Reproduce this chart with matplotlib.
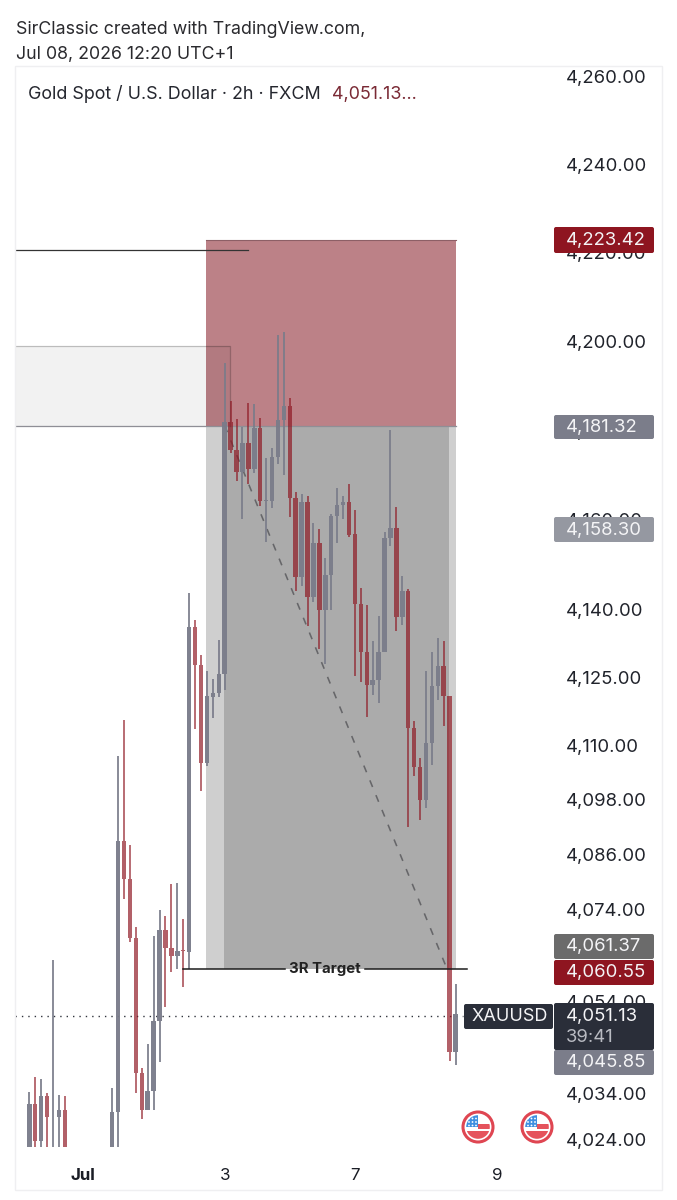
import matplotlib
matplotlib.use("Agg")
import matplotlib.pyplot as plt
from matplotlib.patches import Rectangle, Circle, FancyBboxPatch
from matplotlib.ticker import FixedLocator, FuncFormatter, NullLocator

plt.rcParams['font.family'] = ['Inter', 'DejaVu Sans']

bar_index = [0, 1, 2, 3, 4, 5, 6] + list(range(14, 73))
opens = [4020.70, 4031.63, 4023.72, 4033.42, 4028.89, 4028.96, 4030.34,
         4020.70, 4030.04, 4088.93, 4080.60, 4067.73, 4038.46, 4030.40, 4034.50, 4049.67, 4069.48,
         4065.61, 4063.80, 4065.11, 4064.74, 4136.14, 4127.86, 4106.21, 4120.69, 4121.51, 4125.71,
         4181.81, 4175.60, 4170.73, 4177.10, 4171.40, 4180.60, 4164.19, 4164.19, 4173.96, 4182.33,
         4185.53, 4164.79, 4147.30, 4163.90, 4142.73, 4154.88, 4139.91, 4147.68, 4160.84, 4163.29,
         4163.90, 4156.76, 4141.39, 4130.59, 4123.27, 4124.38, 4130.59, 4155.86, 4158.23, 4138.42,
         4144.12, 4113.94, 4105.24, 4097.93, 4110.63, 4123.05, 4127.52, 4120.91, 4043.00]
highs = [4034.35, 4037.46, 4037.02, 4034.13, 4062.93, 4033.64, 4033.42,
         4035.21, 4107.68, 4115.55, 4088.06, 4070.20, 4039.41, 4044.68, 4068.17, 4073.84, 4072.60,
         4079.45, 4079.67, 4071.81, 4143.68, 4137.69, 4129.92, 4126.43, 4124.75, 4133.25, 4195.06,
         4186.59, 4182.55, 4180.82, 4186.07, 4185.85, 4182.84, 4173.87, 4175.98, 4201.44, 4202.19,
         4187.33, 4166.13, 4165.68, 4165.37, 4159.21, 4157.87, 4151.53, 4161.22, 4167.02, 4165.30,
         4167.98, 4162.18, 4144.86, 4141.02, 4133.13, 4138.58, 4157.20, 4180.08, 4162.78, 4147.52,
         4144.72, 4115.33, 4107.32, 4126.44, 4130.71, 4133.81, 4133.13, 4120.91, 4057.70]
lows = [4019.60, 4021.78, 4021.78, 4021.78, 4021.78, 4021.78, 4021.78,
        4019.62, 4021.78, 4076.24, 4066.86, 4034.00, 4028.40, 4030.40, 4030.40, 4040.84, 4052.78,
        4060.38, 4060.90, 4056.98, 4060.90, 4113.56, 4099.97, 4105.47, 4115.99, 4120.69, 4122.33,
        4174.86, 4168.65, 4160.10, 4167.98, 4170.37, 4163.07, 4154.97, 4162.56, 4172.39, 4170.00,
        4160.68, 4144.19, 4145.30, 4136.36, 4141.75, 4131.19, 4128.08, 4139.91, 4154.88, 4160.24,
        4156.22, 4125.33, 4124.00, 4116.15, 4121.22, 4119.46, 4130.59, 4154.15, 4135.31, 4136.58,
        4091.94, 4103.19, 4093.69, 4096.24, 4105.62, 4119.96, 4114.29, 4041.06, 4040.05]
closes = [4031.63, 4023.72, 4033.42, 4028.96, 4028.96, 4030.34, 4021.78,
          4030.04, 4088.93, 4080.60, 4067.73, 4038.46, 4030.40, 4034.50, 4049.67, 4069.48, 4065.61,
          4063.80, 4064.89, 4064.89, 4136.14, 4127.86, 4106.21, 4120.85, 4121.51, 4125.71, 4181.81,
          4175.60, 4170.73, 4177.10, 4171.40, 4180.60, 4164.19, 4164.41, 4173.96, 4182.33, 4185.53,
          4164.79, 4147.30, 4163.90, 4142.73, 4154.88, 4139.91, 4147.68, 4160.91, 4163.29, 4164.03,
          4156.60, 4141.39, 4130.59, 4123.27, 4124.38, 4130.59, 4155.86, 4158.23, 4138.42, 4144.12,
          4113.94, 4105.24, 4097.93, 4110.63, 4123.05, 4127.52, 4120.91, 4043.00, 4051.13]

price_ticks = [4260, 4240, 4220, 4200, 4180, 4160, 4140, 4125, 4110, 4098, 4086, 4074, 4054, 4034, 4024]
time_ticks = [9, 33, 55, 79]
time_labels = ['Jul', '3', '7', '9']

zone_left, zone_inner_left, zone_inner_right, zone_right = 29.8, 32.9, 70.9, 72.06
stop_price, entry_price, target_price = 4223.0, 4181.1, 4060.9
last_price = 4050.8
supply_top = 4198.96
resistance_price = 4220.64

W, H = 677, 1200
fig = plt.figure(figsize=(W / 100, H / 100), dpi=100, facecolor='white')
L, R, T, B = 15, 555, 71, 1147
ax = fig.add_axes([L / W, 1 - B / H, (R - L) / W, (B - T) / H])
ax.patch.set_alpha(0)
ax.set_yscale('log')
ax.set_xlim(-2.42, 88.8)
ax.set_ylim(4022.42, 4261.37)
for s in ax.spines.values():
    s.set_visible(False)
ax.yaxis.tick_right()
ax.yaxis.set_major_locator(FixedLocator(price_ticks))
ax.yaxis.set_minor_locator(NullLocator())
ax.yaxis.set_major_formatter(FuncFormatter(lambda v, p: f'{v:,.2f}'))
ax.set_xticks(time_ticks)
ax.set_xticklabels(time_labels)
ax.tick_params(axis='y', length=0, pad=8, labelsize=13.3, labelcolor='#20232b')
for t in ax.get_yticklabels():
    t.set_ha('left')
ax.tick_params(axis='x', length=0, pad=15, labelsize=12.2, labelcolor='#1a1d25')
ax.get_xticklabels()[0].set_fontweight('bold')

# position tools
ax.fill_between([zone_left, zone_right], entry_price, stop_price, color='#bc8187', lw=0, zorder=1)
ax.fill_between([zone_left, zone_right], target_price, entry_price, color='#cfcfcf', lw=0, zorder=1)
ax.fill_between([zone_inner_left, zone_inner_right], target_price, entry_price, color='#ababab', lw=0, zorder=1.1)
ax.plot([zone_left, zone_right], [stop_price] * 2, color='#8d5f66', lw=0.8, zorder=1.2)
ax.plot([-2.42, zone_right], [entry_price] * 2, color='#8f8f96', lw=0.9, zorder=1.2)
ax.fill_between([-2.42, 33.9], entry_price, supply_top, facecolor=(0, 0, 0, 0.05), lw=0, zorder=1.3)
ax.plot([-2.42, 33.9, 33.9], [supply_top, supply_top, entry_price], color=(0, 0, 0, 0.22), lw=0.9, zorder=1.3)
ax.plot([-2.42, 36.9], [resistance_price] * 2, color='#333333', lw=0.9, zorder=2)
ax.plot([33, 70.6], [entry_price, target_price], color='#666669', lw=1.15, ls=(0, (4.5, 5.5)), zorder=1.5)
ax.plot([-2.42, 73.2], [last_price] * 2, color='#30333c', lw=1.0, ls=(0, (1, 3.6)), zorder=2)

# candles
for i, o, h, l, c in zip(bar_index, opens, highs, lows, closes):
    up = c >= o
    col = '#7a7c8a' if up else '#8e1520'
    alpha = 0.96 if up else 0.68
    lo, hi = min(o, c), max(o, c)
    if l < lo:
        ax.vlines(i, l, lo, color=col, alpha=alpha, lw=1.3, zorder=3)
    if h > hi:
        ax.vlines(i, hi, h, color=col, alpha=alpha, lw=1.3, zorder=3)
    ax.bar(i, hi - lo, bottom=lo, width=0.76, color=col, alpha=alpha, lw=0, zorder=3.1)

ax.plot([26, 43.2], [target_price] * 2, color='#1c1c1c', lw=1.1, zorder=4)
ax.plot([56.7, 73.9], [target_price] * 2, color='#1c1c1c', lw=1.1, zorder=4)
ax.text(50.0, target_price, '3R Target', ha='center', va='center', fontsize=10.8, fontweight='bold',
        color='#222222', zorder=5)

# overlay for header, price labels and event flags
ov = fig.add_axes([0, 0, 1, 1], zorder=10)
ov.set_xlim(0, W)
ov.set_ylim(H, 0)
ov.axis('off')
ov.patch.set_alpha(0)
ov.add_patch(Rectangle((15, 66), 647, 1124, fill=False, ec='#efeff1', lw=1))

ov.text(16, 29, 'SirClassic created with TradingView.com,', fontsize=12.8, color='#2a2a2e', va='center')
ov.text(16, 54, 'Jul 08, 2026 12:20 UTC+1', fontsize=12.8, color='#2a2a2e', va='center')
ov.text(28, 94, 'Gold Spot / U.S. Dollar · 2h · FXCM', fontsize=12.9, color='#24262e', va='center')
ov.text(332, 94, '4,051.13...', fontsize=12.9, color='#7a2a35', va='center')

price_boxes = [
    (227, 253, '#8e1520', '4,223.42'),
    (415, 439, '#7b7d8a', '4,181.32'),
    (517, 542, '#9598a1', '4,158.30'),
    (934, 959, '#6b6b6b', '4,061.37'),
    (960, 985, '#8e1520', '4,060.55'),
    (1050, 1075, '#7b7d8a', '4,045.85'),
]
def box(x0, x1, y0, y1, color):
    ov.add_patch(FancyBboxPatch((x0 + 2, y0 + 2), x1 - x0 - 4, y1 - y0 - 4,
                                boxstyle='round,pad=2,rounding_size=2', fc=color, ec='none'))
for y0, y1, color, text in price_boxes:
    box(554, 654, y0, y1, color)
    ov.text(566, (y0 + y1) / 2 + 0.5, text, fontsize=13.3, color='#f4f4f6', va='center')
box(554, 654, 1003, 1050, '#2a2e39')
ov.text(566, 1016, '4,051.13', fontsize=13.3, color='#f4f4f6', va='center')
ov.text(566, 1037, '39:41', fontsize=13.3, color='#b9bbc2', va='center')
box(464, 553, 1004, 1029, '#2a2e39')
ov.text(472, 1016.5, 'XAUUSD', fontsize=13.0, color='#f4f4f6', va='center')

def flag(cx, cy):
    ov.add_patch(Circle((cx, cy), 15, fc='white', ec='#df4652', lw=2.2))
    disc = Circle((cx, cy), 11.8, transform=ov.transData, fc='none', ec='none')
    ov.add_patch(disc)
    for x, y, w, h, c in [(cx - 12, cy - 12, 12, 12, '#3f8fe0'),
                          (cx, cy - 3, 12, 4.5, '#e5535c'),
                          (cx - 12, cy + 4, 24, 8, '#e5535c')]:
        r = Rectangle((x, y), w, h, fc=c, ec='none')
        ov.add_patch(r)
        r.set_clip_path(disc)
    for dx in (-9, -5.5, -2):
        for dy in (-8.5, -5, -1.5):
            ov.add_patch(Circle((cx + dx, cy + dy), 0.9, fc='white', ec='none'))
flag(478, 1127)
flag(537, 1127)

fig.savefig('out.png', dpi=100, facecolor='white')
